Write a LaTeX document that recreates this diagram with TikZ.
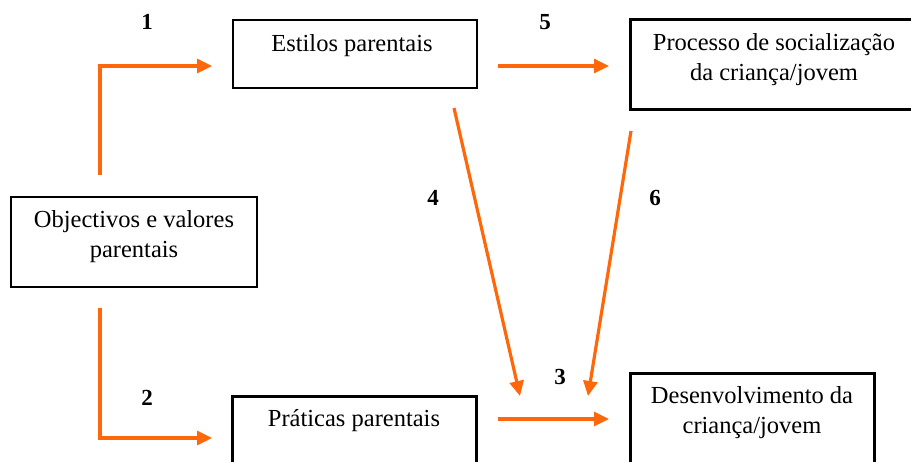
\documentclass[tikz,border=0pt]{standalone}
\usepackage{fontspec}
\setmainfont{Liberation Serif}
\usetikzlibrary{arrows.meta}
\definecolor{arr}{RGB}{255,104,10}
\tikzset{
  box/.style={draw=black, line width=2.8pt, rectangle, inner sep=0pt},
  openbox/.style={rectangle, inner sep=0pt},
  edge3/.style={draw=black, line width=2.8pt},
  txt/.style={font=\fontsize{24.5}{30}\selectfont, align=center, inner sep=0pt},
  num/.style={font=\fontsize{23}{26}\selectfont\bfseries, inner sep=0pt},
  con/.style={draw=arr, line width=3.2pt, -{Triangle[length=15pt,width=14pt]}}
}
\begin{document}
\begin{tikzpicture}[x=1pt,y=-1pt]
\useasboundingbox (0,0) rectangle (911,461);
\begin{scope}
\clip (0,0) rectangle (911,461);
% boxes
\node[box, minimum width=244pt, minimum height=68pt] (est) at (355,54) {};
\node[openbox, minimum width=310pt, minimum height=89pt] (proc) at (786,64.5) {};
\draw[edge3] (proc.north east) -- (proc.north west) -- (proc.south west) -- (proc.south east);
\node[box, minimum width=246pt, minimum height=90pt] (obj) at (134,242) {};
\node[openbox, minimum width=243pt, minimum height=80pt] (prat) at (354.5,437) {};
\draw[edge3] (prat.south west) -- (prat.north west) -- (prat.north east) -- (prat.south east);
\node[openbox, minimum width=243pt, minimum height=100pt] (dev) at (752.5,424) {};
\draw[edge3] (dev.south west) -- (dev.north west) -- (dev.north east) -- (dev.south east);
\end{scope}
% texts
\node[txt] (testil) at (352,46) {Estilos parentais};
\node[txt] (tproc) at (774,60) {Processo de socialização\\da criança/jovem};
\node[txt] (tobj) at (134,237) {Objectivos e valores\\parentais};
\node[txt] (tprat) at (354,421) {Práticas parentais};
\node[txt] (tdev) at (752,413) {Desenvolvimento da\\criança/jovem};
% numbers
\node[num] (n1) at (147,22) {1};
\node[num] (n5) at (545,22) {5};
\node[num] (n4) at (433,198) {4};
\node[num] (n6) at (655,198) {6};
\node[num] (n2) at (147,398) {2};
\node[num] (n3) at (560,377) {3};
% connector ends
\coordinate (a1s) at (100,175);
\coordinate (a1e) at (212,66);
\coordinate (a2s) at (100,308);
\coordinate (a2e) at (212,438);
\coordinate (a5s) at (498,66);
\coordinate (a5e) at (609,66);
\coordinate (a3s) at (498,419);
\coordinate (a3e) at (609,419);
\coordinate (a4s) at (454,108);
\coordinate (a4e) at (520,396);
\coordinate (a6s) at (631,131);
\coordinate (a6e) at (588,396);
% connectors
\draw[con] (a1s) |- (a1e);
\draw[con] (a2s) |- (a2e);
\draw[con] (a5s) -- (a5e);
\draw[con] (a3s) -- (a3e);
\draw[con] (a4s) -- (a4e);
\draw[con] (a6s) -- (a6e);
\end{tikzpicture}
\end{document}
